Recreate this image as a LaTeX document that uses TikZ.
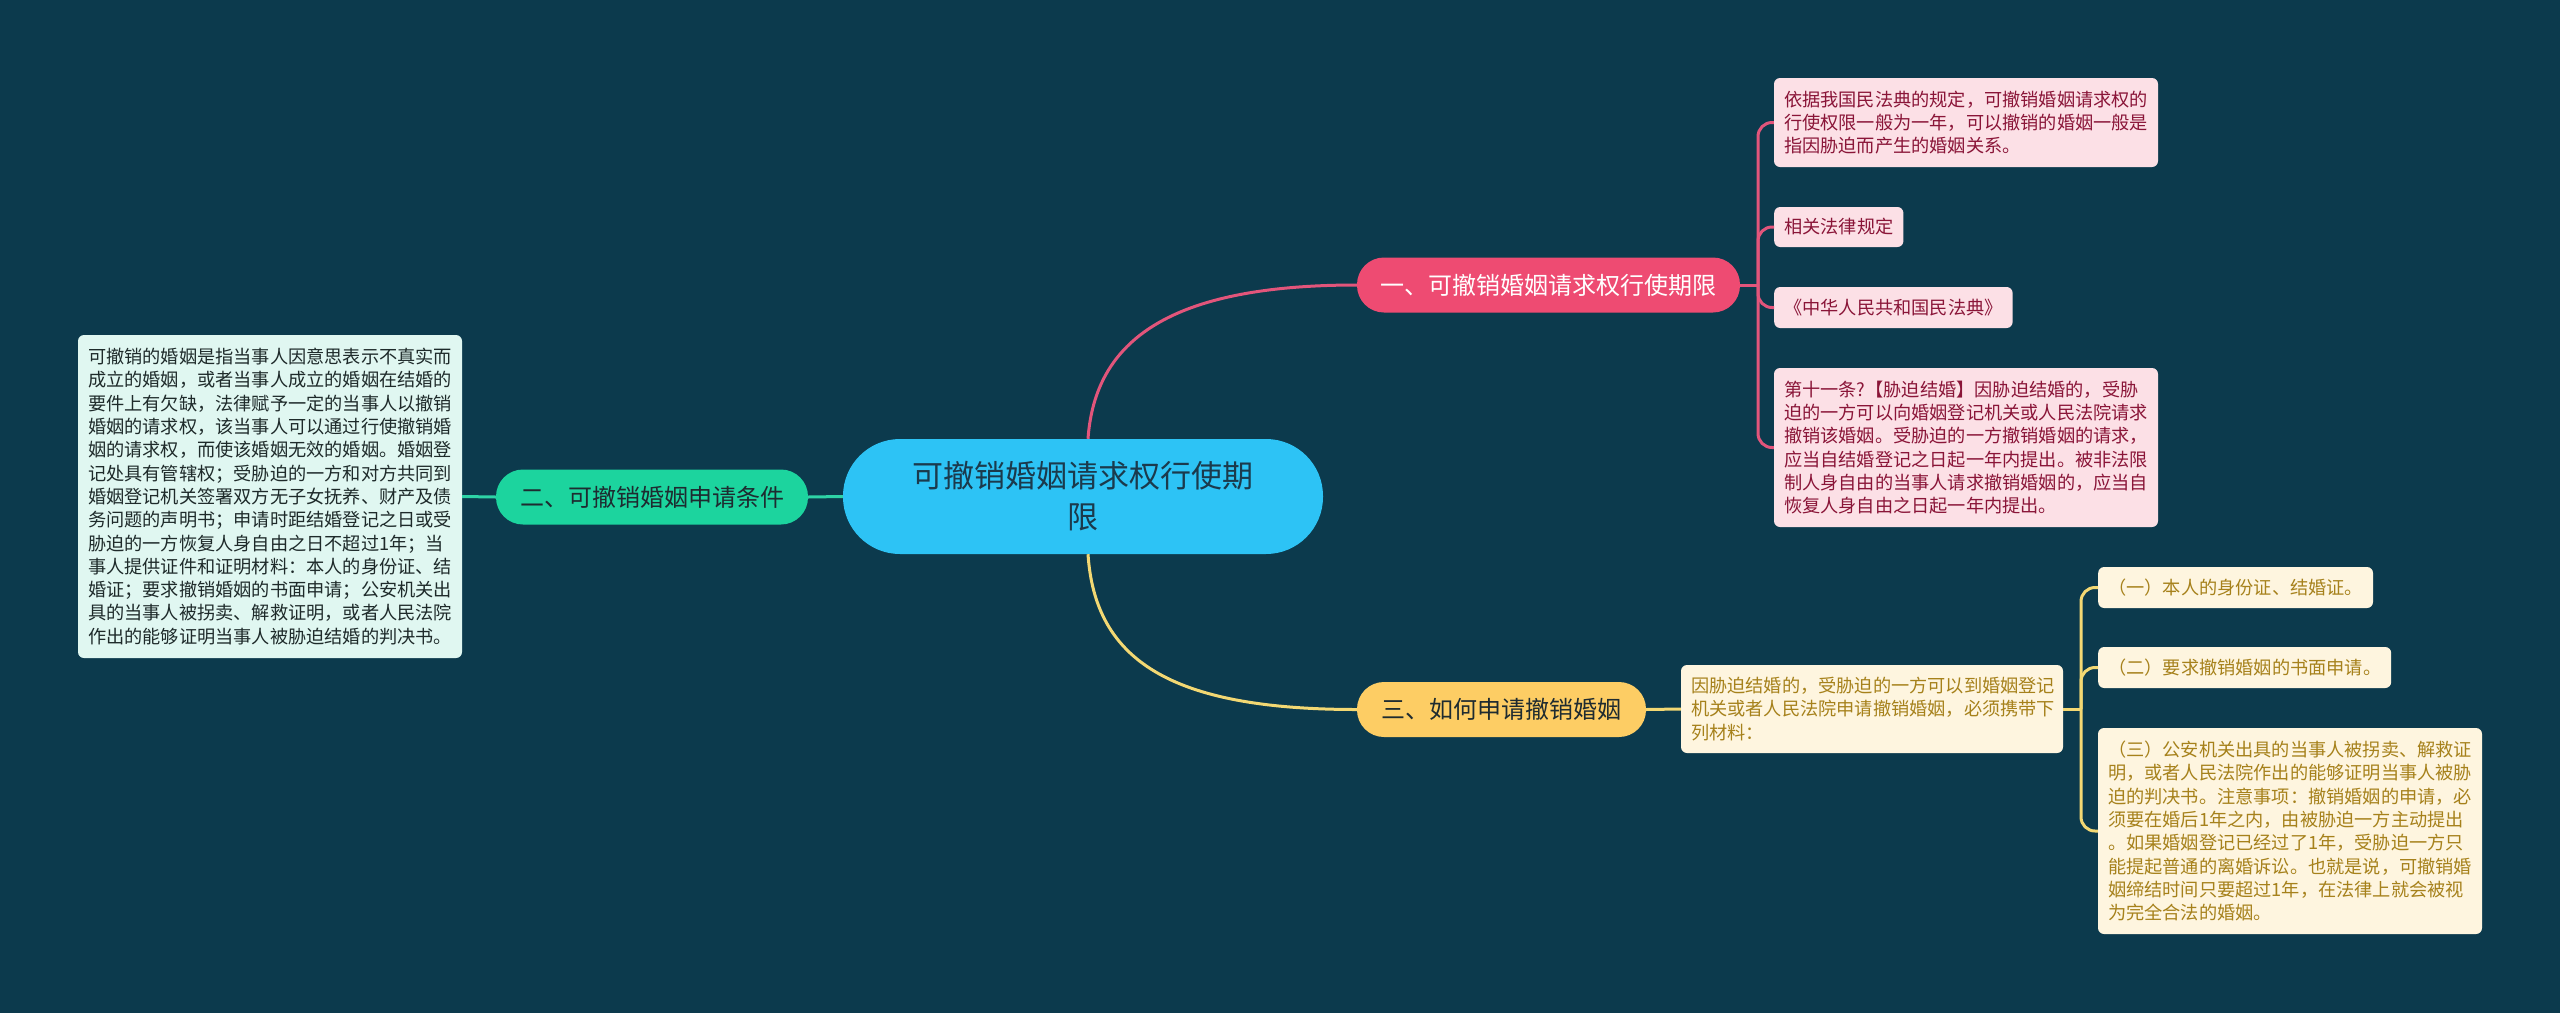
\documentclass[tikz,border=0pt]{standalone}
\usepackage{fontspec}
\setmainfont{Noto Sans CJK SC}
\definecolor{bg}{HTML}{0C3A4D}
\definecolor{cfill}{HTML}{2DC3F5}
\definecolor{ctext}{HTML}{1B3A4C}
\definecolor{pinkmain}{HTML}{EE4B72}
\definecolor{pinkline}{HTML}{E2557B}
\definecolor{pinkbox}{HTML}{FCE0E6}
\definecolor{pinktext}{HTML}{8A1538}
\definecolor{greenmain}{HTML}{1CD49E}
\definecolor{greenline}{HTML}{2ED3A6}
\definecolor{greenbox}{HTML}{E0F7F1}
\definecolor{greentext}{HTML}{1E2A2A}
\definecolor{yelmain}{HTML}{FDCD64}
\definecolor{yelline}{HTML}{F3D873}
\definecolor{yelbox}{HTML}{FEF5DF}
\definecolor{yeltext}{HTML}{A6811B}
\definecolor{darktext}{HTML}{1E2B30}
\tikzset{
  pill/.style={rounded corners=27pt, minimum height=55pt, inner sep=0pt, font=\fontsize{24}{28}\selectfont},
  txtbox/.style={rounded corners=6pt, inner xsep=10pt, inner ysep=0pt, align=left, font=\fontsize{18.2}{23.3}\selectfont},
  pbox/.style={txtbox, fill=pinkbox, text=pinktext},
  gbox/.style={txtbox, fill=greenbox, text=greentext},
  ybox/.style={txtbox, fill=yelbox, text=yeltext},
  pconn/.style={draw=pinkline, line width=3pt},
  gconn/.style={draw=greenline, line width=3pt},
  yconn/.style={draw=yelline, line width=3pt},
  bconn/.style={rounded corners=14pt}
}
\begin{document}
\begin{tikzpicture}[x=1pt,y=-1pt]
\fill[bg] (0,0) rectangle (2560,1013);
\useasboundingbox (0,0) rectangle (2560,1013);

% central node
\node[fill=cfill, text=ctext, rounded corners=57pt, minimum width=480pt, minimum height=115pt, inner sep=0pt, align=center, font=\fontsize{31}{41}\selectfont] (c) at (1083,496.5) {可撤销婚姻请求权行使期\\限};

% level 1
\node[pill, fill=pinkmain, text=white, minimum width=383pt] (n1) at (1548.5,285) {一、可撤销婚姻请求权行使期限};
\node[pill, fill=greenmain, text=darktext, minimum width=312pt] (n2) at (652,497) {二、可撤销婚姻申请条件};
\node[pill, fill=yelmain, text=darktext, minimum width=289pt] (n3) at (1501.5,709.5) {三、如何申请撤销婚姻};

% left box
\node[gbox, minimum width=384pt, minimum height=323pt, text width=364pt] (L) at (270,496.5) {可撤销的婚姻是指当事人因意思表示不真实而\\成立的婚姻，或者当事人成立的婚姻在结婚的\\要件上有欠缺，法律赋予一定的当事人以撤销\\婚姻的请求权，该当事人可以通过行使撤销婚\\姻的请求权，而使该婚姻无效的婚姻。婚姻登\\记处具有管辖权；受胁迫的一方和对方共同到\\婚姻登记机关签署双方无子女抚养、财产及债\\务问题的声明书；申请时距结婚登记之日或受\\胁迫的一方恢复人身自由之日不超过1年；当\\事人提供证件和证明材料：本人的身份证、结\\婚证；要求撤销婚姻的书面申请；公安机关出\\具的当事人被拐卖、解救证明，或者人民法院\\作出的能够证明当事人被胁迫结婚的判决书。};

% pink boxes
\node[pbox, minimum width=384pt, minimum height=89pt, text width=364pt] (p1) at (1966,122.5) {依据我国民法典的规定，可撤销婚姻请求权的\\行使权限一般为一年，可以撤销的婚姻一般是\\指因胁迫而产生的婚姻关系。};
\node[pbox, minimum height=40pt, anchor=west] (p2) at (1774,227) {相关法律规定};
\node[pbox, minimum height=41pt, anchor=west] (p3) at (1774,307.5) {《中华人民共和国民法典》};
\node[pbox, minimum width=384pt, minimum height=159pt, text width=364pt] (p4) at (1966,447.5) {第十一条?【胁迫结婚】因胁迫结婚的，受胁\\迫的一方可以向婚姻登记机关或人民法院请求\\撤销该婚姻。受胁迫的一方撤销婚姻的请求，\\应当自结婚登记之日起一年内提出。被非法限\\制人身自由的当事人请求撤销婚姻的，应当自\\恢复人身自由之日起一年内提出。};

% yellow boxes
\node[ybox, minimum width=382pt, minimum height=88pt, text width=362pt] (y0) at (1872,709) {因胁迫结婚的，受胁迫的一方可以到婚姻登记\\机关或者人民法院申请撤销婚姻，必须携带下\\列材料：};
\node[ybox, minimum height=41pt, anchor=west] (y1) at (2098,587.5) {（一）本人的身份证、结婚证。};
\node[ybox, minimum height=41pt, anchor=west] (y2) at (2098,667.5) {（二）要求撤销婚姻的书面申请。};
\node[ybox, minimum width=384pt, minimum height=206pt, text width=364pt] (y3) at (2290,831) {（三）公安机关出具的当事人被拐卖、解救证\\明，或者人民法院作出的能够证明当事人被胁\\迫的判决书。注意事项：撤销婚姻的申请，必\\须要在婚后1年之内，由被胁迫一方主动提出\\。如果婚姻登记已经过了1年，受胁迫一方只\\能提起普通的离婚诉讼。也就是说，可撤销婚\\姻缔结时间只要超过1年，在法律上就会被视\\为完全合法的婚姻。};

% connectors from centre
\draw[pconn] ([xshift=5pt]c.north) .. controls (1095,340) and (1170,285) .. (n1.west);
\draw[yconn] ([xshift=5pt]c.south) .. controls (1095,660) and (1170,709.5) .. (n3.west);
\draw[gconn] (c.west) -- (n2.east);
\draw[gconn] (n2.west) -- (L.east);

% pink bracket
\coordinate (jp) at (1758,285);
\draw[pconn] (n1.east) -- (jp);
\draw[pconn, bconn] (jp) |- (p1.west);
\draw[pconn, bconn] (jp) |- (p2.west);
\draw[pconn, bconn] (jp) |- (p3.west);
\draw[pconn, bconn] (jp) |- (p4.west);

% yellow bracket
\draw[yconn] (n3.east) -- (y0.west);
\coordinate (jy) at (2081,709);
\draw[yconn] (y0.east) -- (jy);
\draw[yconn, bconn] (jy) |- (y1.west);
\draw[yconn, bconn] (jy) |- (y2.west);
\draw[yconn, bconn] (jy) |- (y3.west);
\end{tikzpicture}
\end{document}
